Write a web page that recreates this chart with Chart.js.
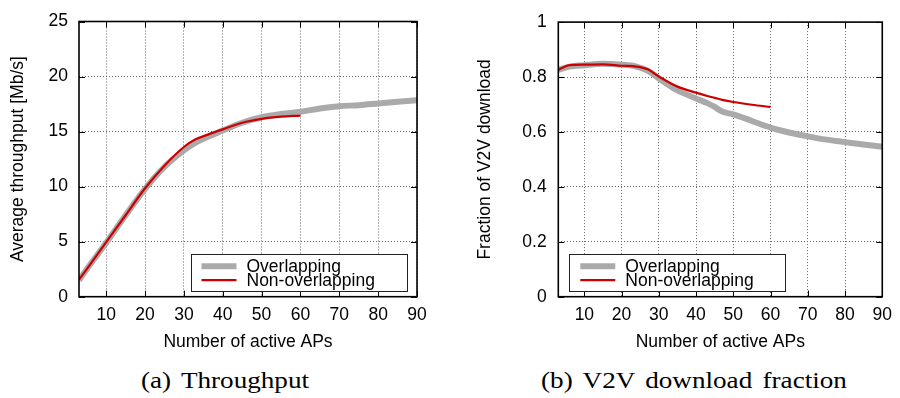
<!DOCTYPE html>
<html>
<head>
<meta charset="utf-8">
<script src="https://cdn.jsdelivr.net/npm/chart.js@4/dist/chart.umd.min.js"></script>
<style>
  body { margin: 0; background: #fff; }
  #page { position: relative; width: 900px; height: 398px; overflow: hidden; }
  .box { position: absolute; top: 0; width: 450px; height: 360px; }
  .caption {
    position: absolute; top: 369px; width: 300px; text-align: center;
    font-family: 'Liberation Serif', 'Times New Roman', serif; font-size: 23px;
    line-height: 23px; color: #000; transform: scaleX(1.18); white-space: nowrap;
    word-spacing: 3px;
  }
</style>
</head>
<body>
<div id="page">
  <div class="box" style="left:0"><canvas id="tputChart" width="450" height="360"></canvas></div>
  <div class="box" style="left:450px"><canvas id="v2vChart" width="450" height="360"></canvas></div>
  <div class="caption" style="left:75px">(a) Throughput</div>
  <div class="caption" style="left:544px">(b) V2V download fraction</div>
</div>
<script>
// shared x ticks
const xTicks = [10, 20, 30, 40, 50, 60, 70, 80, 90];
const seriesNames = ['Overlapping', 'Non-overlapping'];

// (a) throughput [Mb/s]
const tputX = [3, 5, 10, 15, 20, 25, 30, 33, 36, 40, 45, 50, 55, 60, 65, 70, 75, 80, 85, 90];
const tputOverlap = [1.5, 2.5, 4.9, 7.4, 9.8, 11.8, 13.3, 14.0, 14.5, 15.1, 15.8, 16.3, 16.6, 16.8, 17.1, 17.3, 17.4, 17.55, 17.7, 17.85];
const tputNonOverlap = [1.55, 2.5, 4.95, 7.4, 9.85, 11.9, 13.6, 14.3, 14.7, 15.2, 15.8, 16.15, 16.35, 16.45];
const tputYTicks = [0, 5, 10, 15, 20, 25];

// (b) fraction of V2V download
const v2vX = [3, 6, 10, 15, 20, 24, 27, 30, 35, 40, 43, 45, 47, 50, 55, 60, 65, 70, 75, 80, 85, 90];
const v2vOverlap = [0.826, 0.838, 0.843, 0.848, 0.845, 0.838, 0.823, 0.795, 0.751, 0.722, 0.705, 0.691, 0.674, 0.664, 0.640, 0.616, 0.598, 0.584, 0.572, 0.563, 0.554, 0.546];
const v2vNonOverlap = [0.826, 0.843, 0.845, 0.846, 0.841, 0.838, 0.828, 0.802, 0.765, 0.743, 0.731, 0.724, 0.717, 0.709, 0.699, 0.691];
const v2vYTicks = [0, 0.2, 0.4, 0.6, 0.8, 1];

Chart.defaults.font.family = "'Liberation Sans', Arial, sans-serif";
Chart.defaults.font.size = 17.5;
Chart.defaults.color = '#000';

const toPoints = (xs, ys) => ys.map((y, i) => ({ x: xs[i], y: y }));

// gnuplot style frame with inward ticks
const frameTicks = {
    id: 'frameTicks',
    afterDatasetsDraw(chart) {
        const { ctx, chartArea: a } = chart;
        const xs = chart.scales.x, ys = chart.scales.y;
        ctx.save();
        ctx.strokeStyle = '#000';
        ctx.lineWidth = 1;
        ctx.beginPath();
        xs.ticks.forEach(t => {
            const px = Math.round(xs.getPixelForValue(t.value)) + 0.5;
            ctx.moveTo(px, a.bottom); ctx.lineTo(px, a.bottom - 6);
            ctx.moveTo(px, a.top); ctx.lineTo(px, a.top + 6);
        });
        ys.ticks.forEach(t => {
            const py = Math.round(ys.getPixelForValue(t.value)) + 0.5;
            ctx.moveTo(a.left, py); ctx.lineTo(a.left + 6, py);
            ctx.moveTo(a.right, py); ctx.lineTo(a.right - 6, py);
        });
        ctx.stroke();
        ctx.lineWidth = 1.6;
        ctx.strokeRect(a.left, a.top, a.right - a.left, a.bottom - a.top);
        ctx.restore();
    }
};

// boxed legend inside the plot area
const boxLegend = {
    id: 'boxLegend',
    afterDraw(chart, args, opts) {
        const { ctx, chartArea: a } = chart;
        const w = 216, h = 37;
        const left = opts.side === 'left' ? a.left + 11 : a.right - 10.5 - w;
        const top = a.bottom - 5.5 - h;
        ctx.save();
        ctx.fillStyle = '#fff';
        ctx.fillRect(left, top, w, h);
        ctx.strokeStyle = '#222';
        ctx.lineWidth = 1;
        ctx.strokeRect(Math.round(left) + 0.5, Math.round(top) + 0.5, w, h);
        ctx.font = "17.5px 'Liberation Sans', Arial, sans-serif";
        ctx.textBaseline = 'middle';
        chart.data.datasets.forEach((ds, i) => {
            const y = top + 12 + i * 14;
            ctx.strokeStyle = ds.borderColor;
            ctx.lineWidth = ds.borderWidth;
            ctx.beginPath();
            ctx.moveTo(left + 11, y);
            ctx.lineTo(left + 46, y);
            ctx.stroke();
            ctx.fillStyle = '#000';
            ctx.fillText(ds.label, left + 56, y + 1);
        });
        ctx.restore();
    }
};

function makeChart(id, cfg) {
    const ctx = document.getElementById(id).getContext('2d');
    return new Chart(ctx, {
        type: 'line',
        data: {
            datasets: [{
                label: seriesNames[0],
                data: toPoints(cfg.xs, cfg.overlap),
                borderColor: '#aaaaaa',
                borderWidth: 6,
                pointRadius: 0,
                cubicInterpolationMode: 'monotone',
                order: 2
            }, {
                label: seriesNames[1],
                data: toPoints(cfg.xs, cfg.nonOverlap),
                borderColor: '#cc0000',
                borderWidth: 2.2,
                pointRadius: 0,
                cubicInterpolationMode: 'monotone',
                order: 1
            }]
        },
        options: {
            responsive: false,
            animation: false,
            devicePixelRatio: 1,
            layout: { padding: { left: 0, right: cfg.padRight, top: 17.5, bottom: 0 } },
            plugins: {
                legend: { display: false },
                tooltip: { enabled: false },
                boxLegend: { side: cfg.legendSide }
            },
            scales: {
                x: {
                    type: 'linear',
                    min: 3,
                    max: 90,
                    afterBuildTicks: s => { s.ticks = xTicks.map(v => ({ value: v })); },
                    afterFit: s => { s.height = 63.3; },
                    ticks: { padding: 8, maxRotation: 0, callback: v => String(v) },
                    grid: { color: '#666', drawTicks: false },
                    border: { display: false, dash: [1, 2] },
                    title: { display: true, text: 'Number of active APs', padding: { top: 0, bottom: 7.8 } }
                },
                y: {
                    min: 0,
                    max: cfg.yMax,
                    afterBuildTicks: s => { s.ticks = cfg.yTicks.map(v => ({ value: v })); },
                    afterFit: s => { s.width = cfg.yWidth; },
                    ticks: { padding: cfg.yPad, callback: v => String(v) },
                    grid: { color: '#666', drawTicks: false },
                    border: { display: false, dash: [1, 2] },
                    title: { display: true, text: cfg.yTitle, padding: { top: cfg.yTitlePad, bottom: 0 } }
                }
            }
        },
        plugins: [frameTicks, boxLegend]
    });
}

makeChart('tputChart', {
    xs: tputX, overlap: tputOverlap, nonOverlap: tputNonOverlap,
    yMax: 25, yTicks: tputYTicks, yTitle: 'Average throughput [Mb/s]',
    yWidth: 79, yPad: 11, yTitlePad: 7.5, padRight: 33, legendSide: 'right'
});

makeChart('v2vChart', {
    xs: v2vX, overlap: v2vOverlap, nonOverlap: v2vNonOverlap,
    yMax: 1, yTicks: v2vYTicks, yTitle: 'Fraction of V2V download',
    yWidth: 108.3, yPad: 11.6, yTitlePad: 24.5, padRight: 14.3, legendSide: 'left'
});
</script>
</body>
</html>
